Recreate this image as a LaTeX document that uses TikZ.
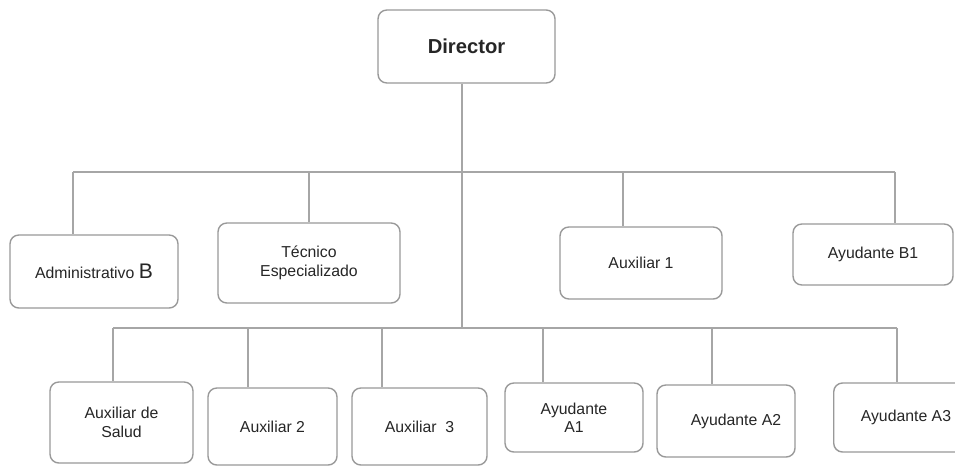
\documentclass[tikz,border=0pt]{standalone}
\usepackage{fontspec}
\setmainfont{Liberation Sans}
\begin{document}
\begin{tikzpicture}[x=0.02cm,y=-0.02cm,
  orgbox/.style={draw=black!40, line width=0.8pt, rounded corners=5pt, fill=white,
    align=center, text=black!85, font=\fontsize{9}{10.5}\selectfont, inner sep=1pt},
  link/.style={draw=black!35, line width=0.7pt}]
\useasboundingbox (0,0) rectangle (955,466);
\fill[white] (0,0) rectangle (955,466);

% boxes
\node[orgbox, minimum width=3.54cm, minimum height=1.46cm, font=\bfseries\fontsize{11.5}{13}\selectfont] (dir) at (466.5,46.5) {Director};

\node[orgbox, minimum width=3.36cm, minimum height=1.46cm] (adm) at (94,271.5) {Administrativo {\fontsize{12}{13}\selectfont B}};
\node[orgbox, minimum width=3.64cm, minimum height=1.60cm] (tec) at (309,263) {Técnico\\Especializado};
\node[orgbox, minimum width=3.24cm, minimum height=1.44cm] (aux1) at (641,263) {Auxiliar 1};
\node[orgbox, minimum width=3.20cm, minimum height=1.22cm] (ayb1) at (873,254.5) {Ayudante B1};

\node[orgbox, minimum width=2.86cm, minimum height=1.62cm] (aus) at (121.5,422.5) {Auxiliar de\\Salud};
\node[orgbox, minimum width=2.58cm, minimum height=1.54cm] (aux2) at (272.5,426.5) {Auxiliar 2};
\node[orgbox, minimum width=2.70cm, minimum height=1.54cm] (aux3) at (419.5,426.5) {Auxiliar~~3};
\node[orgbox, minimum width=2.76cm, minimum height=1.38cm] (aya1) at (574,417.5) {Ayudante\\A1};
\node[orgbox, minimum width=2.76cm, minimum height=1.44cm] (aya2) at (726,421) {\hspace{0.4cm}Ayudante A2};
\node[orgbox, minimum width=2.64cm, minimum height=1.38cm, anchor=west] (aya3) at (833,417.5) {\hspace{0.5cm}Ayudante A3\hspace{0.25cm}};

% trunk and bars
\coordinate (top) at (462,83);
\coordinate (low) at (462,328);
\coordinate (u1) at (73,172);
\coordinate (u2) at (309,172);
\coordinate (u3) at (623,172);
\coordinate (u4) at (895,172);
\coordinate (l1) at (113,328);
\coordinate (l2) at (248,328);
\coordinate (l3) at (382,328);
\coordinate (l4) at (543,328);
\coordinate (l5) at (712,328);
\coordinate (l6) at (897,328);

\draw[link] (dir.south -| top) -- (low);
\draw[link] (u1) -- (u4);
\draw[link] (l1) -- (l6);

\draw[link] (u1) -- (u1 |- adm.north);
\draw[link] (u2) -- (u2 |- tec.north);
\draw[link] (u3) -- (u3 |- aux1.north);
\draw[link] (u4) -- (u4 |- ayb1.north);

\draw[link] (l1) -- (l1 |- aus.north);
\draw[link] (l2) -- (l2 |- aux2.north);
\draw[link] (l3) -- (l3 |- aux3.north);
\draw[link] (l4) -- (l4 |- aya1.north);
\draw[link] (l5) -- (l5 |- aya2.north);
\draw[link] (l6) -- (l6 |- aya3.north);
\end{tikzpicture}
\end{document}
